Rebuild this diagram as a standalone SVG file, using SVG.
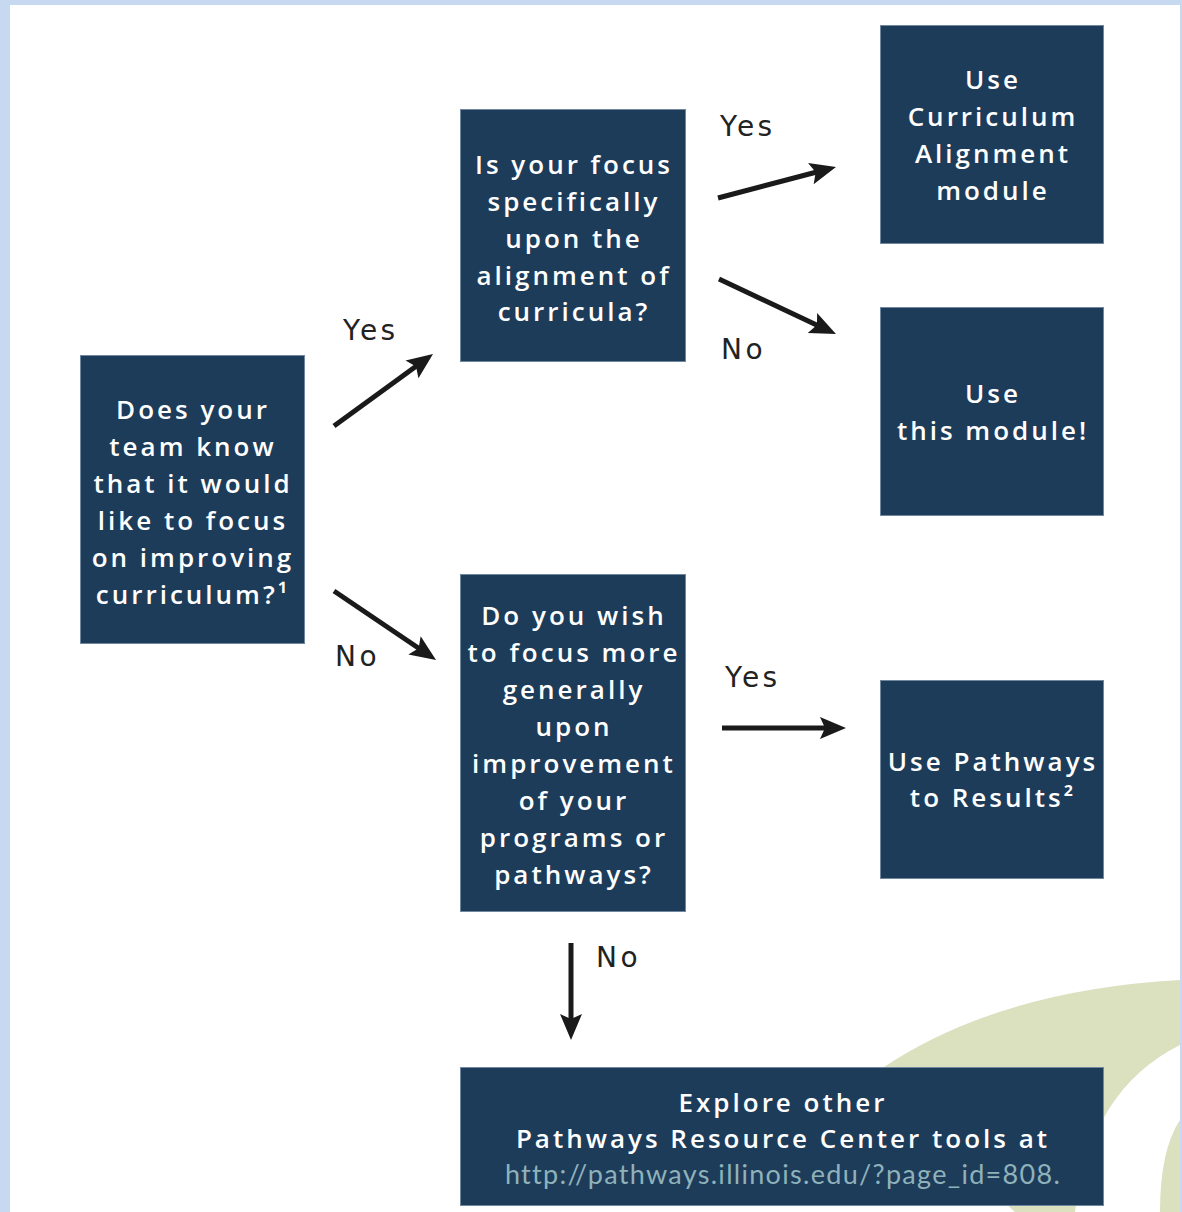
<svg xmlns="http://www.w3.org/2000/svg" width="1182" height="1212" viewBox="0 0 1182 1212">
<style>
.box{fill:#1d3c5a;stroke:#6f88a0;stroke-width:1}
.bt{font-family:"Open Sans","Liberation Sans",sans-serif;font-weight:600;font-size:26px;letter-spacing:3px;fill:#ffffff;text-anchor:middle}
.url{font-family:Lato,"Liberation Sans",sans-serif;font-size:27px;letter-spacing:1.3px;fill:#8fb2ba;text-anchor:middle}
.lbl{font-family:"DejaVu Sans","Liberation Sans",sans-serif;font-size:28px;letter-spacing:3.5px;fill:#222222}
.arr{stroke:#1a1a1a;stroke-width:5;fill:none;marker-end:url(#ah)}
</style>
<defs>
<marker id="ah" markerUnits="userSpaceOnUse" viewBox="-16 -12 30 24" markerWidth="30" markerHeight="24" refX="0" refY="0" orient="auto">
<path d="M12,0 L-14,-11 L-9,0 L-14,11 Z" fill="#1a1a1a"/>
</marker>
</defs>
<rect x="0" y="0" width="1182" height="1212" fill="#c6d9f0"/>
<rect x="10" y="5" width="1170" height="1207" fill="#ffffff"/>
<g id="decor">
<path d="M1015,1212 L870,1080 L884,1067 Q1000,990 1180,980 L1180,1045 Q1090,1090 1075,1212 Z" fill="#dbe0bf"/>
<path d="M1180,1120 Q1160,1150 1160,1212 L1180,1212 Z" fill="#dbe0bf"/>
</g>
<g id="connectors">
<line class="arr" x1="334" y1="426" x2="423.3" y2="361.1"/>
<line class="arr" x1="334" y1="591" x2="426.1" y2="653.3"/>
<line class="arr" x1="718" y1="198" x2="824.4" y2="170"/>
<line class="arr" x1="719" y1="279" x2="825.1" y2="328.9"/>
<line class="arr" x1="722" y1="728" x2="834" y2="728"/>
<line class="arr" x1="571" y1="943" x2="571" y2="1028"/>
<text class="lbl" x="343" y="340">Yes</text>
<text class="lbl" x="335" y="666">No</text>
<text class="lbl" x="720" y="136">Yes</text>
<text class="lbl" x="721" y="359">No</text>
<text class="lbl" x="725" y="687">Yes</text>
<text class="lbl" x="596" y="967">No</text>
</g>
<g id="q1">
<rect class="box" x="80.5" y="355.5" width="224" height="288"/>
<text class="bt" x="193" y="419">Does your</text>
<text class="bt" x="193" y="456">team know</text>
<text class="bt" x="193" y="493">that it would</text>
<text class="bt" x="193" y="530">like to focus</text>
<text class="bt" x="193" y="567">on improving</text>
<text class="bt" x="193" y="604">curriculum?¹</text>
</g>
<g id="q2">
<rect class="box" x="460.5" y="109.5" width="225" height="252"/>
<text class="bt" x="574" y="174">Is your focus</text>
<text class="bt" x="574" y="211">specifically</text>
<text class="bt" x="574" y="248">upon the</text>
<text class="bt" x="574" y="285">alignment of</text>
<text class="bt" x="574" y="321">curricula?</text>
</g>
<g id="r1">
<rect class="box" x="880.5" y="25.5" width="223" height="218"/>
<text class="bt" x="993" y="89">Use</text>
<text class="bt" x="993" y="126">Curriculum</text>
<text class="bt" x="993" y="163">Alignment</text>
<text class="bt" x="993" y="200">module</text>
</g>
<g id="r2">
<rect class="box" x="880.5" y="307.5" width="223" height="208"/>
<text class="bt" x="993" y="403">Use</text>
<text class="bt" x="993" y="440">this module!</text>
</g>
<g id="q3">
<rect class="box" x="460.5" y="574.5" width="225" height="337"/>
<text class="bt" x="574" y="625">Do you wish</text>
<text class="bt" x="574" y="662">to focus more</text>
<text class="bt" x="574" y="699">generally</text>
<text class="bt" x="574" y="736">upon</text>
<text class="bt" x="574" y="773">improvement</text>
<text class="bt" x="574" y="810">of your</text>
<text class="bt" x="574" y="847">programs or</text>
<text class="bt" x="574" y="884">pathways?</text>
</g>
<g id="r3">
<rect class="box" x="880.5" y="680.5" width="223" height="198"/>
<text class="bt" x="993" y="771">Use Pathways</text>
<text class="bt" x="993" y="807">to Results²</text>
</g>
<g id="r4">
<rect class="box" x="460.5" y="1067.5" width="643" height="138"/>
<text class="bt" x="783" y="1112">Explore other</text>
<text class="bt" x="783" y="1148">Pathways Resource Center tools at</text>
<text class="url" x="783" y="1184">http://pathways.illinois.edu/?page_id=808.</text>
</g>
<rect x="1180" y="0" width="2" height="1212" fill="#c6d9f0"/>
</svg>
